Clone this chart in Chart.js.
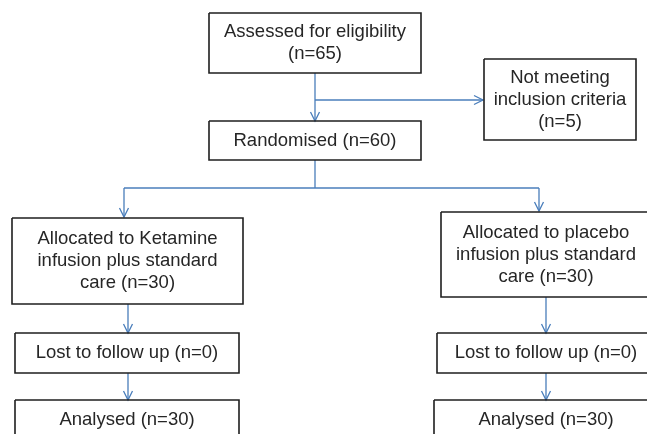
<!DOCTYPE html>
<html>
<head>
<meta charset="utf-8">
<script src="https://cdn.jsdelivr.net/npm/chart.js@4/dist/chart.umd.min.js"></script>
<style>
  html, body { margin: 0; padding: 0; background: #fff; }
  #wrap { width: 647px; height: 434px; }
</style>
</head>
<body>
<div id="wrap"><canvas id="flow" width="647" height="434"></canvas></div>
<script>
// boxes of the flow diagram (diagram units = pixels of the original figure)
const boxLabels = [
  ["Assessed for eligibility", "(n=65)"],
  ["Not meeting", "inclusion criteria", "(n=5)"],
  ["Randomised (n=60)"],
  ["Allocated to Ketamine", "infusion plus standard", "care (n=30)"],
  ["Allocated to placebo", "infusion plus standard", "care (n=30)"],
  ["Lost to follow up (n=0)"],
  ["Lost to follow up (n=0)"],
  ["Analysed (n=30)"],
  ["Analysed (n=30)"],
];
const boxLeft   = [209, 484, 209, 12, 441, 15, 437, 15, 434];
const boxRight  = [421, 636, 421, 243, 651, 239, 655, 239, 658];
const boxTop    = [13, 59, 121, 218, 212, 333, 333, 400, 400];
const boxBottom = [73, 140, 160, 304, 297, 373, 373, 440, 440];

// connectors: start -> end, with an arrow head at the end or not
const linkX1 = [315, 315, 315, 124, 124, 539, 128, 128, 546, 546];
const linkY1 = [73, 100, 160, 188, 188, 188, 304, 373, 297, 373];
const linkX2 = [315, 483, 315, 539, 124, 539, 128, 128, 546, 546];
const linkY2 = [121, 100, 188, 188, 217, 211, 333, 400, 333, 400];
const linkHead = [true, true, false, false, true, true, true, true, true, true];

const boxColor = "#1f1f1f";
const lineColor = "#4a7ebb";

const datasets = [];

boxLabels.forEach((_, i) => {
  const l = boxLeft[i], r = boxRight[i], t = boxTop[i], b = boxBottom[i];
  datasets.push({
    data: [{x: l, y: t}, {x: r, y: t}, {x: r, y: b}, {x: l, y: b}, {x: l, y: t}],
    borderColor: boxColor,
    borderWidth: 1.6,
    pointRadius: 0,
    showLine: true,
    tension: 0,
  });
});

linkX1.forEach((x1, i) => {
  const y1 = linkY1[i], x2 = linkX2[i], y2 = linkY2[i];
  datasets.push({
    data: [{x: x1, y: y1}, {x: x2, y: y2}],
    borderColor: lineColor,
    borderWidth: 1.3,
    pointRadius: 0,
    showLine: true,
  });
  if (!linkHead[i]) return;
  // open chevron head pointing along the segment
  const dx = Math.sign(x2 - x1), dy = Math.sign(y2 - y1);
  const len = 9, half = 4.5;
  const head = dy !== 0
    ? [{x: x2 - half, y: y2 - dy * len}, {x: x2, y: y2}, {x: x2 + half, y: y2 - dy * len}]
    : [{x: x2 - dx * len, y: y2 - half}, {x: x2, y: y2}, {x: x2 - dx * len, y: y2 + half}];
  datasets.push({
    data: head,
    borderColor: lineColor,
    borderWidth: 1.3,
    pointRadius: 0,
    showLine: true,
  });
});

const boxText = {
  id: "boxText",
  afterDatasetsDraw(chart) {
    const { ctx, scales: { x, y } } = chart;
    ctx.save();
    ctx.fillStyle = "#262626";
    ctx.font = "18.5px 'Liberation Sans', Arial, sans-serif";
    ctx.textAlign = "center";
    ctx.textBaseline = "middle";
    const lineH = 22;
    boxLabels.forEach((lines, i) => {
      const cx = x.getPixelForValue((boxLeft[i] + boxRight[i]) / 2);
      const cy = y.getPixelForValue((boxTop[i] + boxBottom[i]) / 2);
      const start = cy - (lines.length - 1) * lineH / 2;
      lines.forEach((txt, k) => ctx.fillText(txt, cx, start + k * lineH));
    });
    ctx.restore();
  }
};

new Chart(document.getElementById("flow"), {
  type: "scatter",
  data: { datasets },
  options: {
    responsive: false,
    animation: false,
    layout: { padding: 0 },
    plugins: { legend: { display: false }, tooltip: { enabled: false } },
    scales: {
      x: { type: "linear", min: 0, max: 647, display: false },
      y: { type: "linear", min: 0, max: 434, reverse: true, display: false },
    },
  },
  plugins: [boxText],
});
</script>
</body>
</html>
